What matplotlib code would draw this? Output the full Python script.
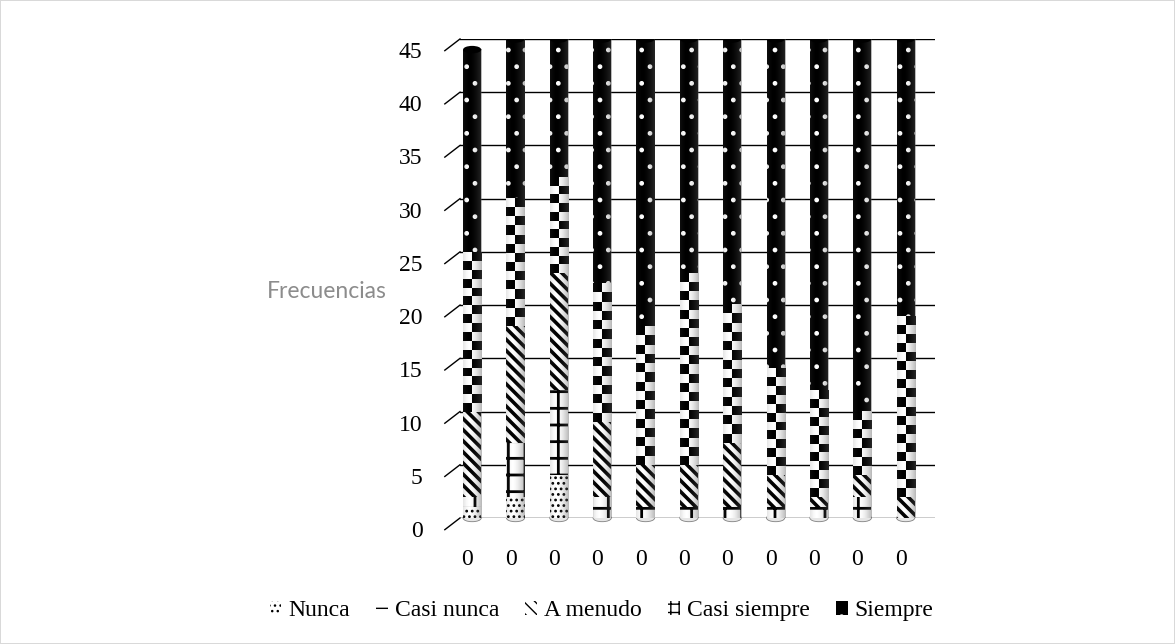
import numpy as np
import matplotlib
matplotlib.use('Agg')
import matplotlib.pyplot as plt
from matplotlib.patches import Ellipse
from matplotlib.transforms import blended_transform_factory, ScaledTranslation

plt.rcParams['font.family'] = ['Liberation Serif', 'DejaVu Serif']

# ---------- data ----------
categories   = ['0'] * 11
nunca        = [1, 2, 4, 0, 0, 0, 0, 0, 0, 0, 0]
casi_nunca   = [1, 5, 8, 2, 1, 1, 1, 1, 1, 2, 0]
a_menudo     = [8, 11, 11, 7, 4, 4, 6, 3, 1, 2, 2]
casi_siempre = [15, 12, 9, 13, 13, 18, 13, 10, 10, 6, 17]
siempre      = [19, 15, 13, 23, 27, 22, 25, 31, 33, 35, 26]

SERIES = [
    # label, values, face, edge(hatch colour), hatch, hatch lw
    ('Nunca',        nunca,        'white', 'black', '...', 1.2),
    ('Casi nunca',   casi_nunca,   'white', 'black', '+',   2.0),
    ('A menudo',     a_menudo,     'white', 'black', '\\\\\\', 2.6),
    ('Casi siempre', casi_siempre, 'white', 'black', '++',  2.6),
    ('Siempre',      siempre,      'black', 'white', '.',   1.0),
]

fig = plt.figure(figsize=(11.75, 6.44), dpi=100)
fig.patch.set_edgecolor('#d9d9d9')
fig.patch.set_linewidth(1.2)
ax = fig.add_axes([0.3915, 0.1957, 0.404, 0.7438])

x = np.arange(len(categories))
width = 0.42
bottom = np.zeros(len(categories))
handles = []
for label, vals, face, edge, hatch, hlw in SERIES:
    plt.rcParams['hatch.linewidth'] = hlw
    vals = np.array(vals, dtype=float)
    bars = ax.bar(x, vals, width, bottom=bottom, color=face, edgecolor=edge,
                  hatch=hatch, linewidth=0, label=label, zorder=3)
    for b in bars:
        if hasattr(b, 'set_hatch_linewidth'):
            b.set_hatch_linewidth(hlw)
    if label == 'Casi siempre':
        # checkerboard texture over this segment
        for xi, b0, v in zip(x, bottom, vals):
            if v <= 0:
                continue
            rows = max(1, int(round(v / 0.85)))
            board = (np.add.outer(np.arange(rows), np.arange(2)) % 2).astype(float)
            ax.imshow(board, cmap='gray', vmin=0, vmax=1, origin='lower',
                      extent=[xi - width / 2, xi + width / 2, b0, b0 + v],
                      aspect='auto', interpolation='nearest', zorder=3.5)
    handles.append(bars)
    bottom += vals

# cylinder shading: darker sides, light highlight
grad = np.linspace(0, 1, 64)
alpha = np.clip(np.abs(grad - 0.35) * 1.4, 0, 1) ** 1.6 * 0.5
shade = np.zeros((1, 64, 4))
shade[..., :3] = 0.35
shade[..., 3] = alpha
for xi, tot in zip(x, bottom):
    ax.imshow(shade, extent=[xi - width / 2, xi + width / 2, 0, tot],
              aspect='auto', zorder=4, interpolation='bilinear')
    # rounded top and bottom of the cylinder
    ax.add_patch(Ellipse((xi, tot), width, 0.7, facecolor='black',
                         edgecolor='none', zorder=5))
    ax.add_patch(Ellipse((xi, 0), width, 0.7, facecolor='#e6e6e6',
                         edgecolor='#808080', lw=0.6, zorder=2, clip_on=False))

ax.set_xlim(-0.28, 10.67)
ax.set_ylim(0, 45)
ax.set_yticks(np.arange(0, 46, 5))
ax.set_xticks(x)
ax.set_xticklabels(categories)
ax.tick_params(axis='both', length=0, labelsize=17)
ax.tick_params(axis='y', pad=27)
ax.tick_params(axis='x', pad=22)
for t in ax.get_yticklabels():
    t.set_transform(t.get_transform() + ScaledTranslation(0, -0.11, fig.dpi_scale_trans))
for t in ax.get_xticklabels():
    t.set_transform(t.get_transform() + ScaledTranslation(-0.05, 0, fig.dpi_scale_trans))
ax.grid(axis='y', color='black', linewidth=1.0, zorder=0)
ax.set_axisbelow(True)
for s in ax.spines.values():
    s.set_visible(False)

# small depth ticks at the left of each gridline
tr = blended_transform_factory(ax.transAxes, ax.transData)
for yv in np.arange(0, 46, 5):
    ax.plot([-0.032, 0.0], [yv - 1.1, yv], color='black', lw=1.0,
            transform=tr, clip_on=False)

fig.text(0.3294, 0.5466, 'Frecuencias', ha='right', va='center',
         fontsize=16.5, color='#8c8c8c', family=['Lato', 'DejaVu Sans'])

fig.legend(handles=handles, labels=[s[0] for s in SERIES], loc='center',
           bbox_to_anchor=(0.512, 0.052), ncol=5, frameon=False,
           fontsize=17, handlelength=0.5, handleheight=0.55,
           handletextpad=0.3, columnspacing=1.1)

fig.savefig('out.png', dpi=100)
